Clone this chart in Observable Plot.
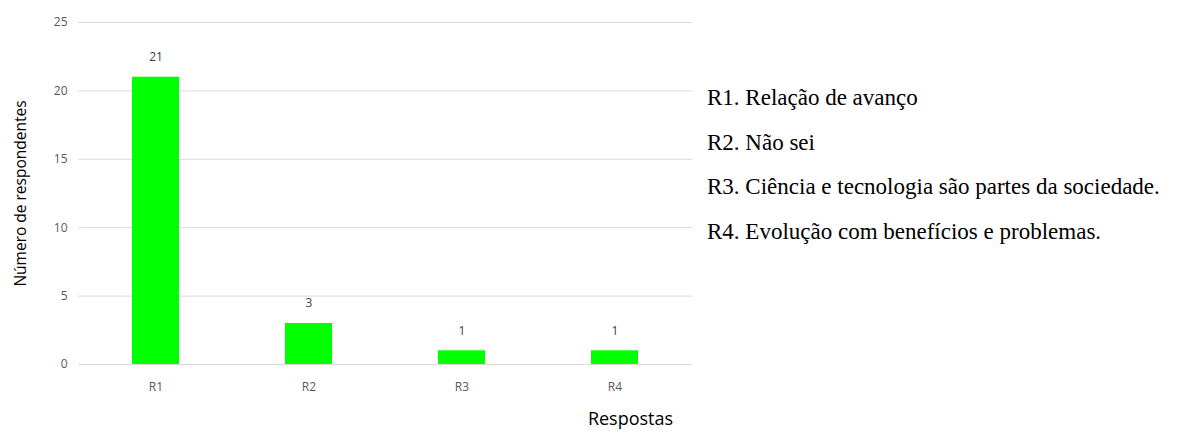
<!DOCTYPE html>
<html>
<head>
<meta charset="utf-8">
<script src="https://cdn.jsdelivr.net/npm/d3@7"></script>
<script src="https://cdn.jsdelivr.net/npm/@observablehq/plot@0.6"></script>
<style>
  html, body { margin: 0; padding: 0; background: #fff; }
  #wrap { position: relative; width: 1178px; height: 433px; }
  #legend {
    position: absolute; left: 707px; top: 76px;
    font-family: "Liberation Serif", "Times New Roman", serif;
    font-size: 23px; color: #000; line-height: 44.5px; white-space: nowrap;
  }
</style>
</head>
<body>
<div id="wrap"><div id="legend"></div></div>
<script>
// Respostas à pergunta e número de respondentes por resposta
const categories = ["R1", "R2", "R3", "R4"];
const counts = [21, 3, 1, 1];
const descriptions = [
  "R1. Relação de avanço",
  "R2. Não sei",
  "R3. Ciência e tecnologia são partes da sociedade.",
  "R4. Evolução com benefícios e problemas."
];
const yTicks = [0, 5, 10, 15, 20, 25];

const rows = categories.map((c, i) => ({resposta: c, n: counts[i]}));

const chart = Plot.plot({
  width: 1178,
  height: 433,
  marginLeft: 78,
  marginRight: 486,
  marginTop: 22,
  marginBottom: 69,
  style: {fontFamily: "'Open Sans', sans-serif", fontSize: "12px", color: "#595959", background: "#fff"},
  x: {domain: categories, paddingInner: 0.69, paddingOuter: 0.345},
  y: {domain: [0, 25]},
  marks: [
    Plot.gridY(yTicks, {stroke: "#d9d9d9", strokeOpacity: 1, strokeWidth: 1}),
    Plot.axisY(yTicks, {
      tickSize: 0, tickPadding: 11, fill: "#595959", fontSize: 12,
      label: "Número de respondentes", labelAnchor: "center", labelOffset: 64,
      labelArrow: "none"
    }),
    Plot.axisX({tickSize: 0, tickPadding: 18, fill: "#595959", fontSize: 12, label: null}),
    Plot.barY(rows, {x: "resposta", y: "n", fill: "#00ff00"}),
    Plot.text(rows, {x: "resposta", y: "n", text: d => String(d.n), dy: -20, fill: "#404040", fontSize: 12}),
    Plot.text(["Respostas"], {frameAnchor: "bottom", dx: 245, dy: 60, fill: "#000", fontSize: 18})
  ]
});

// Y-axis title styling
chart.querySelectorAll("g[aria-label='y-axis label'] text").forEach(t => {
  t.setAttribute("fill", "#000");
  t.style.fontSize = "15.5px";
});

document.getElementById("wrap").prepend(chart);
document.getElementById("legend").innerHTML = descriptions.map(d => `<div>${d}</div>`).join("");
</script>
</body>
</html>
